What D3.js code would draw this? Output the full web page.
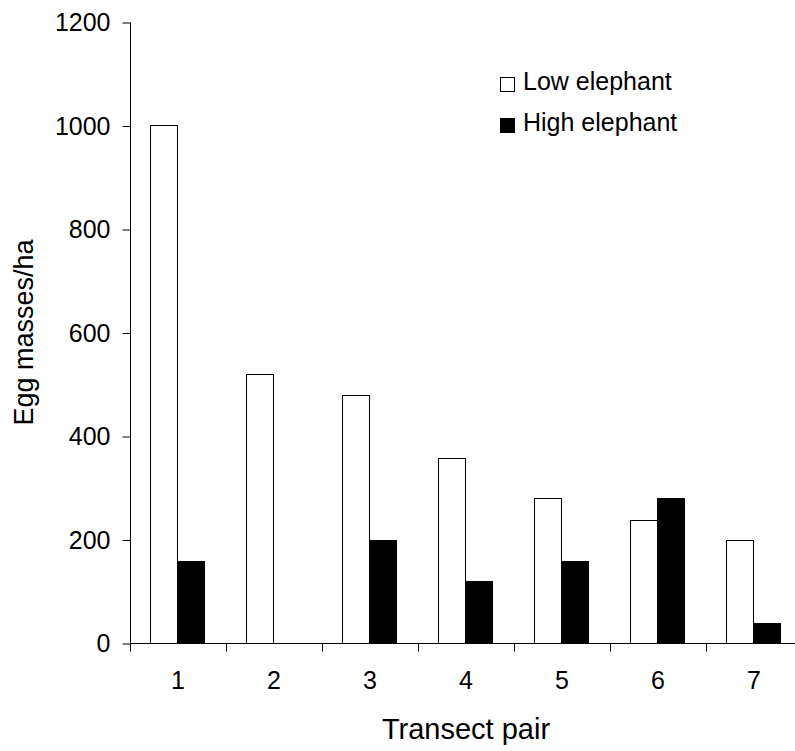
<!DOCTYPE html>
<html>
<head>
<meta charset="utf-8">
<script src="https://cdnjs.cloudflare.com/ajax/libs/d3/7.8.5/d3.min.js"></script>
<style>
  body { margin: 0; background: #fff; }
  svg text { font-family: "Liberation Sans", Arial, sans-serif; fill: #000; }
</style>
</head>
<body>
<div id="chart"></div>
<script>
// data
var pairs = ["1", "2", "3", "4", "5", "6", "7"];
var series = ["Low elephant", "High elephant"];
var lowElephant = [1000, 520, 479, 358, 280, 238, 200];
var highElephant = [158, 0, 200, 119, 158, 280, 38];
var yTicks = [0, 200, 400, 600, 800, 1000, 1200];
var fills = ["#ffffff", "#000000"];

var W = 795, H = 751;

var svg = d3.select("#chart")
    .append("svg")
    .attr("width", W)
    .attr("height", H);

var x = d3.scaleBand()
    .domain(pairs)
    .range([130, 802]);

var xSub = d3.scaleBand()
    .domain(series)
    .range([20, 74]);

var y = d3.scaleLinear()
    .domain([0, 1200])
    .range([643, 22]);

var rows = pairs.map(function(p, i) {
    return {pair: p, values: [lowElephant[i], highElephant[i]]};
});

// bars
var groups = svg.selectAll("g.pair")
    .data(rows)
    .enter()
    .append("g")
    .attr("class", "pair")
    .attr("transform", function(d) { return "translate(" + x(d.pair) + ",0)"; });

groups.selectAll("rect")
    .data(function(d) {
        return d.values.map(function(v, j) { return {key: series[j], value: v, j: j}; });
    })
    .enter()
    .filter(function(d) { return d.value > 0; })
    .append("rect")
    .attr("x", function(d) { return xSub(d.key) + 0.5; })
    .attr("y", function(d) { return Math.round(y(d.value)) + 0.5; })
    .attr("width", xSub.bandwidth())
    .attr("height", function(d) { return Math.round(y(0)) - Math.round(y(d.value)); })
    .attr("fill", function(d) { return fills[d.j]; })
    .attr("stroke", "#000")
    .attr("stroke-width", 1);

// y axis
var yAxis = d3.axisLeft(y)
    .tickValues(yTicks)
    .tickSize(8)
    .tickPadding(12)
    .tickFormat(d3.format("d"));

var gy = svg.append("g")
    .attr("transform", "translate(130.5,0.5)")
    .call(yAxis);
gy.select(".domain").attr("d", "M0," + y(1200) + "V" + y(0));
gy.selectAll("text").style("font-size", "25px").attr("font-family", null);
gy.selectAll("line").attr("stroke", "#000");

// x axis: ticks between pairs
var xAxis = d3.axisBottom(x)
    .tickSize(0)
    .tickPadding(28);

var gx = svg.append("g")
    .attr("transform", "translate(0," + (y(0) + 0.5) + ")")
    .call(xAxis);
gx.select(".domain").attr("d", "M130,0H" + W);
gx.selectAll("text").style("font-size", "25px").attr("font-family", null);

gx.selectAll("line.sep")
    .data(pairs)
    .enter()
    .append("line")
    .attr("class", "sep")
    .attr("x1", function(d) { return Math.round(x(d)) + 0.5; })
    .attr("x2", function(d) { return Math.round(x(d)) + 0.5; })
    .attr("y1", 0)
    .attr("y2", 8)
    .attr("stroke", "#000");

svg.selectAll(".domain").attr("stroke", "#000");

// axis titles
svg.append("text")
    .attr("transform", "translate(33," + ((y(0) + y(1200)) / 2) + ") rotate(-90)")
    .attr("text-anchor", "middle")
    .style("font-size", "27px")
    .text("Egg masses/ha");

svg.append("text")
    .attr("x", (130 + 802) / 2)
    .attr("y", 739)
    .attr("text-anchor", "middle")
    .style("font-size", "29px")
    .text("Transect pair");

// legend
var legend = svg.selectAll("g.legend")
    .data(series)
    .enter()
    .append("g")
    .attr("class", "legend")
    .attr("transform", function(d, i) { return "translate(500," + (77 + i * 41) + ")"; });

legend.append("rect")
    .attr("x", 0.5)
    .attr("y", 0.5)
    .attr("width", 14)
    .attr("height", 14)
    .attr("fill", function(d, i) { return fills[i]; })
    .attr("stroke", "#000");

legend.append("text")
    .attr("x", 23)
    .attr("y", 13)
    .style("font-size", "25px")
    .text(function(d) { return d; });
</script>
</body>
</html>
